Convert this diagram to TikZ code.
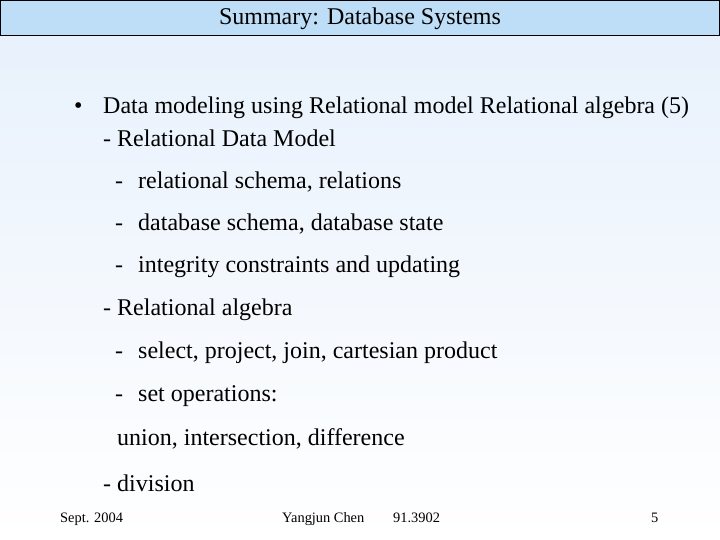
\documentclass[tikz,border=0pt]{standalone}
\usepackage{fontspec}
\setmainfont{Liberation Serif}
\begin{document}
\begin{tikzpicture}[x=1pt,y=-1pt,
  body/.style={anchor=west,inner sep=0pt,font=\fontsize{24}{26}\selectfont},
  foot/.style={anchor=base west,inner sep=0pt,font=\fontsize{14.4}{16}\selectfont}]
\useasboundingbox (0,0) rectangle (720,540);
\shade[top color={rgb,255:red,232;green,241;blue,252},bottom color=white] (0,36) rectangle (720,540);
\draw[fill={rgb,255:red,190;green,221;blue,246},line width=1pt] (0.5,0.5) rectangle (719.5,36);
\node[inner sep=0pt,font=\fontsize{24}{26}\selectfont] (title) at (360,19) {Summary: Database Systems};
\node[body] (b) at (74,108) {\textbullet};
\node[body] (l1) at (103,108) {Data modeling using Relational model Relational algebra (5)};
\node[body] (l2) at (103,138) {- Relational Data Model};
\node[body] (l3) at (115,182) {-\hspace{15pt}relational schema, relations};
\node[body] (l4) at (115,224) {-\hspace{15pt}database schema, database state};
\node[body] (l5) at (115,267) {-\hspace{15pt}integrity constraints and updating};
\node[body] (l6) at (103,310) {- Relational algebra};
\node[body] (l7) at (115,353) {-\hspace{15pt}select, project, join, cartesian product};
\node[body] (l8) at (115,396) {-\hspace{15pt}set operations:};
\node[body] (l9) at (117,439) {union, intersection, difference};
\node[body] (l10) at (103,483) {- division};
\node[foot] (f1) at (60,522) {Sept. 2004};
\node[foot] (f2) at (282,522) {Yangjun Chen};
\node[foot] (f3) at (393,522) {91.3902};
\node[foot] (f4) at (651,522) {5};
\end{tikzpicture}
\end{document}
